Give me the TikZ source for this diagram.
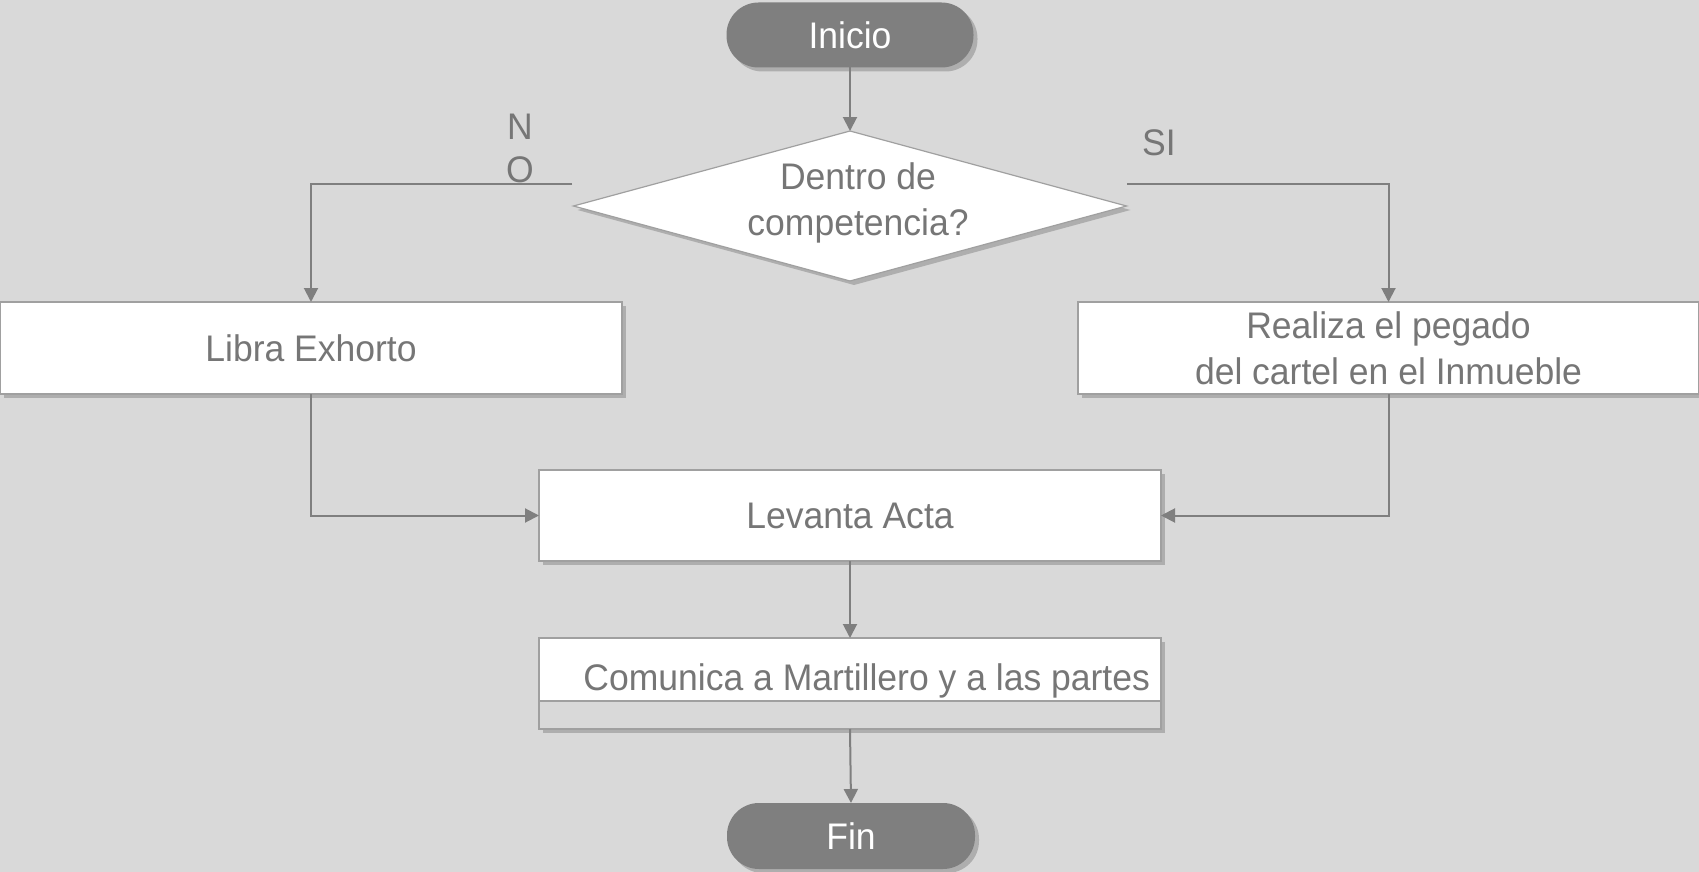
\documentclass[tikz,border=0pt]{standalone}
\usepackage{fontspec}
\setmainfont[FakeStretch=0.96]{Liberation Sans}
\usetikzlibrary{shapes.geometric,shadows,arrows.meta}
\definecolor{bg}{HTML}{D9D9D9}
\definecolor{dk}{HTML}{7F7F7F}
\definecolor{tx}{HTML}{767676}
\definecolor{bd}{HTML}{A0A0A0}
\begin{document}
\begin{tikzpicture}[x=0.5pt,y=-0.5pt,
  font=\fontsize{18.5}{23}\selectfont,
  shd/.style={drop shadow={shadow xshift=2pt,shadow yshift=-2pt,opacity=0.3,fill=black!70}},
  pill/.style={rectangle,rounded corners=16pt,fill=dk,text=white,minimum width=123.5pt,minimum height=32.5pt,inner sep=0pt,outer sep=0pt,shd},
  box/.style={rectangle,draw=bd,line width=0.6pt,fill=white,text=tx,minimum height=46pt,inner sep=0pt,outer sep=0pt,align=center,shd},
  arr/.style={draw=dk,line width=1pt,-{Triangle[length=7pt,width=7pt]}},
  lbl/.style={text=tx,inner sep=0pt,outer sep=0pt}]
\fill[bg] (0,0) rectangle (1699,872);
\useasboundingbox (0,0) rectangle (1699,872);

\node[pill] (inicio) at (850,35) {Inicio};
\node[diamond,draw=bd,line width=0.6pt,fill=white,minimum width=276.5pt,minimum height=75pt,inner sep=0pt,outer sep=0pt,shd] (dec) at (850,206) {};
\node[lbl,align=center] (dectxt) at (858,203) {Dentro de\\competencia?};

\node[box,minimum width=311pt] (libra) at (311,348) {Libra Exhorto};
\node[box,minimum width=310.5pt] (realiza) at (1388.5,348) {Realiza el pegado\\del cartel en el Inmueble};
\node[box,minimum width=311pt,minimum height=45.5pt] (levanta) at (850,515.5) {Levanta Acta};

\node[box,fill=bg,minimum width=311pt,minimum height=45.5pt] (comunica) at (850,683.5) {};
\fill[white] (comunica.north west) rectangle (1161,701);
\draw[bd,line width=0.6pt] (comunica.north west) rectangle (comunica.south east);
\draw[bd,line width=0.6pt] (539,701) -- (1161,701);
\node[lbl,anchor=east] (comtxt) at (1150,681) {Comunica a Martillero y a las partes};

\node[pill,minimum width=124pt,minimum height=33pt] (fin) at (851,836) {Fin};

\node[lbl] (n1) at (520,127) {N};
\node[lbl] (o1) at (520,170) {O};
\node[lbl] (si) at (1159,143) {SI};

\coordinate (noStart) at (572,184);
\coordinate (siStart) at (1127,184);

\draw[arr] (inicio) -- (dec);
\draw[arr] (noStart) -| (libra.north);
\draw[arr] (siStart) -| (realiza.north);
\draw[arr] (libra.south) |- (levanta.west);
\draw[arr] (realiza.south) |- (levanta.east);
\draw[arr] (levanta) -- (comunica);
\draw[arr] (comunica.south) -- (fin.north);
\end{tikzpicture}
\end{document}
